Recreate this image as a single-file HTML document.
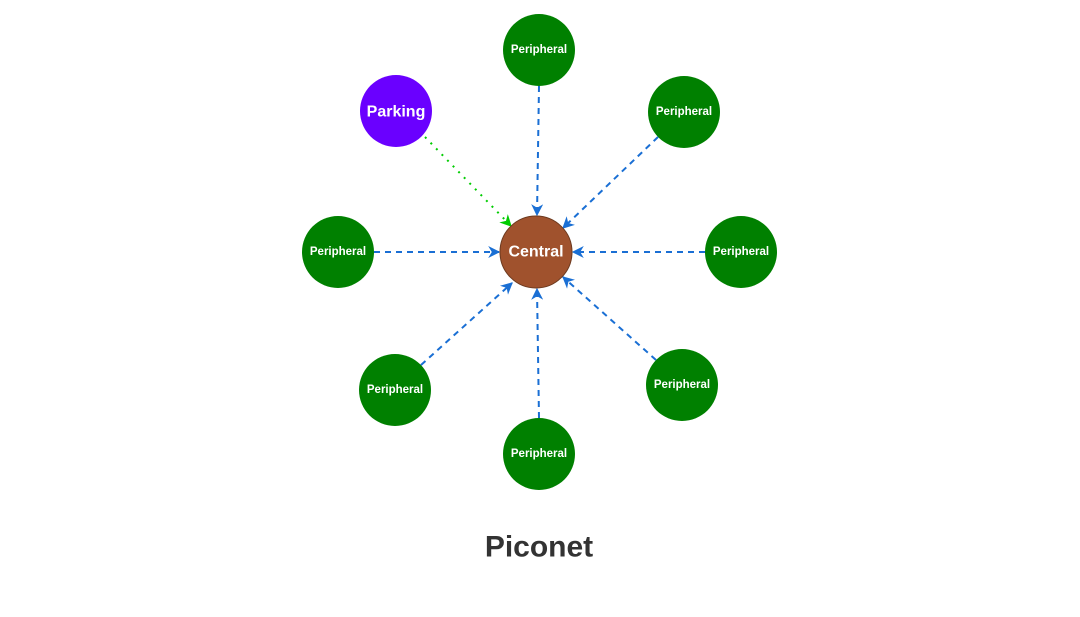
<!DOCTYPE html>
<html><head><style>
html,body{margin:0;padding:0;background:#fff;}
svg{display:block;}
text{font-family:"Liberation Sans",Arial,sans-serif;font-weight:bold;fill:#fff;text-anchor:middle;dominant-baseline:central;}
</style></head><body>
<svg width="1080" height="617" viewBox="0 0 1080 617" xmlns="http://www.w3.org/2000/svg">
<defs>
<marker id="b" viewBox="0 0 10 10" refX="9" refY="5" markerWidth="12" markerHeight="12" orient="auto" markerUnits="userSpaceOnUse">
<path d="M0,0 L10,5 L0,10 L3,5 Z" fill="#1a6fd4"/></marker>
<marker id="g" viewBox="0 0 10 10" refX="9" refY="5" markerWidth="12" markerHeight="12" orient="auto" markerUnits="userSpaceOnUse">
<path d="M0,0 L10,5 L0,10 L3,5 Z" fill="#00cc00"/></marker>
</defs>
<g stroke="#1a6fd4" stroke-width="2" stroke-dasharray="6,5" fill="none">
<line x1="539" y1="86" x2="537" y2="215" marker-end="url(#b)"/>
<line x1="658" y1="137" x2="563" y2="228" marker-end="url(#b)"/>
<line x1="705" y1="252" x2="573" y2="252" marker-end="url(#b)"/>
<line x1="656" y1="360" x2="563" y2="277" marker-end="url(#b)"/>
<line x1="539" y1="418" x2="537" y2="289" marker-end="url(#b)"/>
<line x1="421" y1="365" x2="512" y2="283" marker-end="url(#b)"/>
<line x1="374" y1="252" x2="499" y2="252" marker-end="url(#b)"/>
</g>
<line x1="425" y1="137" x2="511" y2="226" stroke="#00cc00" stroke-width="2" stroke-dasharray="2,6" marker-end="url(#g)"/>
<circle cx="539" cy="50" r="36" fill="#008000"/>
<circle cx="684" cy="112" r="36" fill="#008000"/>
<circle cx="741" cy="252" r="36" fill="#008000"/>
<circle cx="682" cy="385" r="36" fill="#008000"/>
<circle cx="539" cy="454" r="36" fill="#008000"/>
<circle cx="395" cy="390" r="36" fill="#008000"/>
<circle cx="338" cy="252" r="36" fill="#008000"/>
<circle cx="396" cy="111" r="36" fill="#6a00ff"/>
<circle cx="536" cy="252" r="36" fill="#a0522d" stroke="#6d3a1f" stroke-width="1"/>
<g font-size="11.5">
<text x="539" y="50">Peripheral</text>
<text x="684" y="112">Peripheral</text>
<text x="741" y="252">Peripheral</text>
<text x="682" y="385">Peripheral</text>
<text x="539" y="454">Peripheral</text>
<text x="395" y="390">Peripheral</text>
<text x="338" y="252">Peripheral</text>
</g>
<text x="396" y="112" font-size="16">Parking</text>
<text x="536" y="252" font-size="16">Central</text>
<text x="539" y="547" font-size="30" style="fill:#333;font-weight:600;">Piconet</text>
</svg>
</body></html>
